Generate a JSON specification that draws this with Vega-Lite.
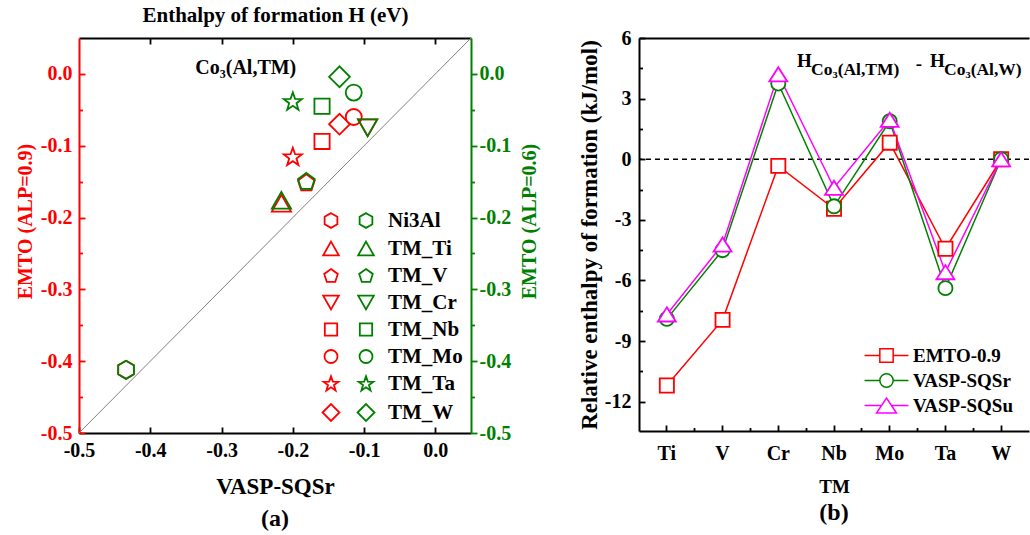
{
  "$schema": "https://vega.github.io/schema/vega-lite/v6.json",
  "padding": {"left": 15, "top": 4, "right": 0, "bottom": 0},
  "background": "white",
  "datasets": {
    "formation": [
      {"TM": "Ni3Al", "VASP": -0.434, "EMTO09": -0.412, "EMTO06": -0.412},
      {"TM": "TM_Ti", "VASP": -0.216, "EMTO09": -0.180, "EMTO06": -0.176},
      {"TM": "TM_V", "VASP": -0.181, "EMTO09": -0.151, "EMTO06": -0.149},
      {"TM": "TM_Cr", "VASP": -0.095, "EMTO09": -0.075, "EMTO06": -0.075},
      {"TM": "TM_Nb", "VASP": -0.159, "EMTO09": -0.094, "EMTO06": -0.045},
      {"TM": "TM_Mo", "VASP": -0.1145, "EMTO09": -0.060, "EMTO06": -0.026},
      {"TM": "TM_Ta", "VASP": -0.200, "EMTO09": -0.115, "EMTO06": -0.038},
      {"TM": "TM_W", "VASP": -0.1345, "EMTO09": -0.070, "EMTO06": -0.004}
    ],
    "diagonal": [{"v": -0.5}, {"v": 0.05}],
    "relative": [
      {"TM": "Ti", "method": "EMTO-0.9", "H": -11.2},
      {"TM": "V", "method": "EMTO-0.9", "H": -7.95},
      {"TM": "Cr", "method": "EMTO-0.9", "H": -0.33},
      {"TM": "Nb", "method": "EMTO-0.9", "H": -2.45},
      {"TM": "Mo", "method": "EMTO-0.9", "H": 0.82},
      {"TM": "Ta", "method": "EMTO-0.9", "H": -4.43},
      {"TM": "W", "method": "EMTO-0.9", "H": 0},
      {"TM": "Ti", "method": "VASP-SQSr", "H": -7.9},
      {"TM": "V", "method": "VASP-SQSr", "H": -4.5},
      {"TM": "Cr", "method": "VASP-SQSr", "H": 3.75},
      {"TM": "Nb", "method": "VASP-SQSr", "H": -2.33},
      {"TM": "Mo", "method": "VASP-SQSr", "H": 1.88},
      {"TM": "Ta", "method": "VASP-SQSr", "H": -6.38},
      {"TM": "W", "method": "VASP-SQSr", "H": 0},
      {"TM": "Ti", "method": "VASP-SQSu", "H": -7.68},
      {"TM": "V", "method": "VASP-SQSu", "H": -4.22},
      {"TM": "Cr", "method": "VASP-SQSu", "H": 4.2},
      {"TM": "Nb", "method": "VASP-SQSu", "H": -1.41},
      {"TM": "Mo", "method": "VASP-SQSu", "H": 1.95},
      {"TM": "Ta", "method": "VASP-SQSu", "H": -5.59},
      {"TM": "W", "method": "VASP-SQSu", "H": 0}
    ]
  },
  "config": {
    "font": "Liberation Serif",
    "view": {"stroke": null},
    "axis": {
      "grid": false,
      "labelFont": "Liberation Serif",
      "labelFontWeight": "bold",
      "labelFontSize": 20,
      "titleFont": "Liberation Serif",
      "titleFontWeight": "bold",
      "titleFontSize": 20,
      "labelFlush": false,
      "labelOverlap": false,
      "domainWidth": 2,
      "tickWidth": 1.8,
      "domainColor": "black",
      "tickColor": "black",
      "labelColor": "black",
      "titleColor": "black"
    },
    "legend": {
      "labelFont": "Liberation Serif",
      "labelFontWeight": "bold",
      "labelFontSize": 21,
      "labelColor": "black",
      "padding": 0
    },
    "title": {
      "font": "Liberation Serif",
      "fontWeight": "bold",
      "fontSize": 24,
      "color": "black"
    }
  },
  "bounds": "flush",
  "spacing": 168,
  "hconcat": [
    {
      "width": 392,
      "height": 395,
      "title": {"text": "(a)", "orient": "bottom", "offset": 9, "anchor": "middle"},
      "layer": [
        {
          "data": {"name": "diagonal"},
          "mark": {"type": "line", "color": "#808080", "strokeWidth": 1},
          "encoding": {
            "x": {
              "field": "v", "type": "quantitative",
              "scale": {"domain": [-0.5, 0.05], "nice": false, "zero": false},
              "axis": {
                "orient": "bottom",
                "values": [-0.5, -0.4, -0.3, -0.2, -0.1, 0],
                "tickSize": -6,
                "labelPadding": 13,
                "labelExpr": "datum.value < 0 ? '-' + format(-datum.value, '.1f') : format(datum.value, '.1f')",
                "title": "VASP-SQSr",
                "titleFontSize": 23,
                "titlePadding": 15
              }
            },
            "y": {
              "field": "v", "type": "quantitative",
              "scale": {"domain": [-0.5, 0.05], "nice": false, "zero": false},
              "axis": {
                "orient": "left",
                "values": [-0.5, -0.4, -0.3, -0.2, -0.1, 0],
                "tickSize": -6,
                "labelPadding": 13,
                "labelExpr": "datum.value < 0 ? '-' + format(-datum.value, '.1f') : format(datum.value, '.1f')",
                "labelColor": "#FF0000",
                "domainColor": "#FF0000",
                "tickColor": "#FF0000",
                "title": "EMTO (ALP=0.9)",
                "titleColor": "#FF0000",
                "titlePadding": 5,
                "titleY": 183
              }
            }
          }
        },
        {
          "data": {"name": "formation"},
          "mark": {"type": "point", "filled": false, "stroke": "#FF0000", "strokeWidth": 1.8, "size": 256, "opacity": 1},
          "encoding": {
            "x": {
              "field": "VASP", "type": "quantitative",
              "scale": {"domain": [-0.5, 0.05], "nice": false, "zero": false},
              "axis": {
                "orient": "top",
                "values": [-0.4, -0.3, -0.2, -0.1, 0],
                "tickSize": -6,
                "labels": false,
                "title": "Enthalpy of formation H (eV)",
                "titleFontSize": 21,
                "titlePadding": 12
              }
            },
            "y": {
              "field": "EMTO09", "type": "quantitative",
              "scale": {"domain": [-0.5, 0.05], "nice": false, "zero": false},
              "axis": {
                "orient": "right",
                "values": [-0.5, -0.4, -0.3, -0.2, -0.1, 0],
                "tickSize": 6,
                "labelPadding": 2,
                "labelExpr": "datum.value < 0 ? '-' + format(-datum.value, '.1f') : format(datum.value, '.1f')",
                "labelColor": "#008000",
                "domainColor": "#008000",
                "tickColor": "#008000",
                "title": "EMTO (ALP=0.6)",
                "titleColor": "#008000",
                "titleAngle": 270,
                "titleBaseline": "top",
                "titlePadding": 9,
                "titleY": 183
              }
            },
            "shape": {
              "field": "TM", "type": "nominal",
              "scale": {
                "domain": ["Ni3Al", "TM_Ti", "TM_V", "TM_Cr", "TM_Nb", "TM_Mo", "TM_Ta", "TM_W"],
                "range": [
                  "M0,-1.13L0.98,-0.565L0.98,0.565L0,1.13L-0.98,0.565L-0.98,-0.565Z",
                  "M0,-1.05L1.2,1.05L-1.2,1.05Z",
                  "M0,-1L1.046,-0.24L0.647,0.99L-0.647,0.99L-1.046,-0.24Z",
                  "M0,1.05L1.2,-1.05L-1.2,-1.05Z",
                  "M-0.95,-0.95L0.95,-0.95L0.95,0.95L-0.95,0.95Z",
                  "circle",
                  "M0,-1.1L0.282,-0.288L1.141,-0.271L0.4565,0.248L0.705,1.071L0,0.58L-0.705,1.071L-0.4565,0.248L-1.141,-0.271L-0.282,-0.288Z",
                  "M-1.3,0L0,-1.3L1.3,0L0,1.3Z"
                ]
              },
              "legend": {
                "orient": "none",
                "legendX": 241.5,
                "legendY": 172,
                "direction": "vertical",
                "title": null,
                "symbolSize": 169,
                "symbolStrokeColor": "#FF0000",
                "symbolStrokeWidth": 1.8,
                "symbolFillColor": "transparent",
                "labelExpr": "' '",
                "labelOpacity": 0,
                "labelOffset": 11.5,
                "rowPadding": 5
              }
            }
          }
        },
        {
          "data": {"name": "formation"},
          "mark": {"type": "point", "filled": false, "stroke": "#008000", "strokeWidth": 1.8, "size": 256, "opacity": 1},
          "encoding": {
            "x": {
              "field": "VASP", "type": "quantitative",
              "scale": {"domain": [-0.5, 0.05], "nice": false, "zero": false},
              "axis": null
            },
            "y": {
              "field": "EMTO06", "type": "quantitative",
              "scale": {"domain": [-0.5, 0.05], "nice": false, "zero": false},
              "axis": {
                "orient": "left",
                "values": [-0.45, -0.35, -0.25, -0.15, -0.05],
                "tickSize": -3.5,
                "labels": false,
                "domain": false,
                "tickColor": "#FF0000",
                "title": null
              }
            },
            "shape": {
              "field": "TM", "type": "nominal",
              "scale": {
                "domain": ["Ni3Al", "TM_Ti", "TM_V", "TM_Cr", "TM_Nb", "TM_Mo", "TM_Ta", "TM_W"],
                "range": [
                  "M0,-1.13L0.98,-0.565L0.98,0.565L0,1.13L-0.98,0.565L-0.98,-0.565Z",
                  "M0,-1.05L1.2,1.05L-1.2,1.05Z",
                  "M0,-1L1.046,-0.24L0.647,0.99L-0.647,0.99L-1.046,-0.24Z",
                  "M0,1.05L1.2,-1.05L-1.2,-1.05Z",
                  "M-0.95,-0.95L0.95,-0.95L0.95,0.95L-0.95,0.95Z",
                  "circle",
                  "M0,-1.1L0.282,-0.288L1.141,-0.271L0.4565,0.248L0.705,1.071L0,0.58L-0.705,1.071L-0.4565,0.248L-1.141,-0.271L-0.282,-0.288Z",
                  "M-1.3,0L0,-1.3L1.3,0L0,1.3Z"
                ]
              },
              "legend": {
                "orient": "none",
                "legendX": 276.5,
                "legendY": 172,
                "direction": "vertical",
                "title": null,
                "symbolSize": 169,
                "symbolStrokeColor": "#008000",
                "symbolStrokeWidth": 1.8,
                "symbolFillColor": "transparent",
                "labelOffset": 11.5,
                "rowPadding": 5
              }
            }
          }
        },
        {
          "data": {"values": [{}]},
          "mark": {"type": "text", "text": "Co₃(Al,TM)", "font": "Liberation Serif", "fontSize": 20, "fontWeight": "bold", "align": "center", "baseline": "alphabetic", "color": "black"},
          "encoding": {
            "x": {
              "datum": -0.266, "type": "quantitative",
              "scale": {"domain": [-0.5, 0.05], "nice": false, "zero": false},
              "axis": null
            },
            "y": {
              "datum": 0, "type": "quantitative",
              "scale": {"domain": [-0.5, 0.05], "nice": false, "zero": false},
              "axis": {
                "orient": "right",
                "values": [-0.45, -0.35, -0.25, -0.15, -0.05],
                "tickSize": 3.5,
                "labels": false,
                "domain": false,
                "tickColor": "#008000",
                "title": null
              }
            }
          }
        }
      ],
      "resolve": {"axis": {"x": "independent", "y": "independent"}, "scale": {"shape": "independent"}}
    },
    {
      "width": 390,
      "height": 393,
      "title": {"text": "(b)", "orient": "bottom", "offset": 5, "anchor": "middle"},
      "layer": [
        {
          "data": {"values": [{}]},
          "mark": {"type": "rule", "color": "black", "strokeWidth": 1.3, "strokeDash": [5, 4]},
          "encoding": {
            "y": {
              "datum": 0, "type": "quantitative",
              "scale": {"domain": [-13.45, 6], "nice": false, "zero": false},
              "axis": {
                "orient": "left",
                "values": [-12, -9, -6, -3, 0, 3, 6],
                "tickSize": -6,
                "labelPadding": 14,
                "labelExpr": "datum.value < 0 ? '-' + (-datum.value) : '' + datum.value",
                "title": "Relative enthalpy of formation (kJ/mol)",
                "titleFontSize": 23,
                "titlePadding": 3
              }
            }
          }
        },
        {
          "data": {"name": "relative"},
          "mark": {"type": "line", "strokeWidth": 1.5},
          "encoding": {
            "x": {
              "field": "TM", "type": "nominal",
              "scale": {"type": "band", "domain": ["Ti", "V", "Cr", "Nb", "Mo", "Ta", "W"], "paddingInner": 0, "paddingOuter": 0},
              "axis": {
                "orient": "bottom",
                "bandPosition": 0.5,
                "tickSize": -6,
                "labelAngle": 0,
                "labelPadding": 18,
                "title": "TM",
                "titleFontSize": 19,
                "titlePadding": 14
              }
            },
            "y": {
              "field": "H", "type": "quantitative",
              "scale": {"domain": [-13.45, 6], "nice": false, "zero": false},
              "axis": {
                "orient": "left",
                "values": [-10.5, -7.5, -4.5, -1.5, 1.5, 4.5],
                "tickSize": -3.5,
                "labels": false,
                "domain": false,
                "title": null
              }
            },
            "color": {
              "field": "method", "type": "nominal",
              "scale": {"domain": ["EMTO-0.9", "VASP-SQSr", "VASP-SQSu"], "range": ["#FF0000", "#008000", "#FF00FF"]},
              "legend": {
                "orient": "none",
                "legendX": 798,
                "legendY": 308,
                "direction": "vertical",
                "title": null,
                "symbolSize": 225,
                "symbolStrokeWidth": 1.5,
                "labelFontSize": 19,
                "labelOffset": 17,
                "rowPadding": 4,
                "encode": {
                  "symbols": {
                    "update": {
                      "shape": {"signal": "datum.value === 'EMTO-0.9' ? 'M-2.93,0L-0.89,0M0.89,0L2.93,0M-0.89,-0.89L0.89,-0.89L0.89,0.89L-0.89,0.89Z' : datum.value === 'VASP-SQSr' ? 'M-2.93,0L-0.89,0M0.89,0L2.93,0M-0.89,0A0.89,0.89 0 1,0 0.89,0A0.89,0.89 0 1,0 -0.89,0Z' : 'M-2.93,0L-0.67,0M0.67,0L2.93,0M0,-1L1.33,1L-1.33,1Z'"},
                      "fill": {"value": "white"},
                      "fillOpacity": {"value": 1}
                    }
                  }
                }
              }
            },
            "order": {"value": null}
          }
        },
        {
          "data": {"name": "relative"},
          "mark": {"type": "point", "filled": true, "fill": "white", "strokeWidth": 1.8, "size": 200, "opacity": 1},
          "encoding": {
            "x": {
              "field": "TM", "type": "nominal",
              "scale": {"type": "band", "domain": ["Ti", "V", "Cr", "Nb", "Mo", "Ta", "W"], "paddingInner": 0, "paddingOuter": 0},
              "axis": {
                "orient": "bottom",
                "bandPosition": 0,
                "values": ["V", "Cr", "Nb", "Mo", "Ta", "W"],
                "tickSize": -3.5,
                "labels": false,
                "domain": false,
                "title": null
              }
            },
            "y": {
              "field": "H", "type": "quantitative",
              "scale": {"domain": [-13.45, 6], "nice": false, "zero": false},
              "axis": null
            },
            "shape": {
              "field": "method", "type": "nominal",
              "scale": {"domain": ["EMTO-0.9", "VASP-SQSr", "VASP-SQSu"], "range": ["square", "circle", "M0,-1L1.27,1L-1.27,1Z"]},
              "legend": null
            },
            "stroke": {
              "field": "method", "type": "nominal",
              "scale": {"domain": ["EMTO-0.9", "VASP-SQSr", "VASP-SQSu"], "range": ["#FF0000", "#008000", "#FF00FF"]},
              "legend": null
            }
          }
        },
        {
          "data": {"values": [{}]},
          "mark": {"type": "text", "text": "H", "font": "Liberation Serif", "fontSize": 19, "fontWeight": "bold", "align": "left", "baseline": "alphabetic", "dx": -37, "color": "black"},
          "encoding": {
            "x": {
              "datum": "Nb", "type": "nominal",
              "scale": {"type": "band", "domain": ["Ti", "V", "Cr", "Nb", "Mo", "Ta", "W"], "paddingInner": 0, "paddingOuter": 0},
              "axis": {"orient": "top", "ticks": false, "labels": false, "title": null}
            },
            "y": {"datum": 4.55, "type": "quantitative", "scale": {"domain": [-13.45, 6], "nice": false, "zero": false}, "axis": null}
          }
        },
        {
          "data": {"values": [{}]},
          "mark": {"type": "text", "text": "Co₃(Al,TM)", "font": "Liberation Serif", "fontSize": 17.5, "fontWeight": "bold", "align": "left", "baseline": "alphabetic", "dx": -23, "dy": 8, "color": "black"},
          "encoding": {
            "x": {"datum": "Nb", "type": "nominal", "scale": {"type": "band", "domain": ["Ti", "V", "Cr", "Nb", "Mo", "Ta", "W"], "paddingInner": 0, "paddingOuter": 0}, "axis": null},
            "y": {"datum": 4.55, "type": "quantitative", "scale": {"domain": [-13.45, 6], "nice": false, "zero": false}, "axis": null}
          }
        },
        {
          "data": {"values": [{}]},
          "mark": {"type": "text", "text": "-", "font": "Liberation Serif", "fontSize": 19, "fontWeight": "bold", "align": "center", "baseline": "alphabetic", "dx": 85, "dy": 3, "color": "black"},
          "encoding": {
            "x": {"datum": "Nb", "type": "nominal", "scale": {"type": "band", "domain": ["Ti", "V", "Cr", "Nb", "Mo", "Ta", "W"], "paddingInner": 0, "paddingOuter": 0}, "axis": null},
            "y": {"datum": 4.55, "type": "quantitative", "scale": {"domain": [-13.45, 6], "nice": false, "zero": false}, "axis": null}
          }
        },
        {
          "data": {"values": [{}]},
          "mark": {"type": "text", "text": "H", "font": "Liberation Serif", "fontSize": 19, "fontWeight": "bold", "align": "left", "baseline": "alphabetic", "dx": 96, "color": "black"},
          "encoding": {
            "x": {"datum": "Nb", "type": "nominal", "scale": {"type": "band", "domain": ["Ti", "V", "Cr", "Nb", "Mo", "Ta", "W"], "paddingInner": 0, "paddingOuter": 0}, "axis": null},
            "y": {"datum": 4.55, "type": "quantitative", "scale": {"domain": [-13.45, 6], "nice": false, "zero": false}, "axis": null}
          }
        },
        {
          "data": {"values": [{}]},
          "mark": {"type": "text", "text": "Co₃(Al,W)", "font": "Liberation Serif", "fontSize": 17.5, "fontWeight": "bold", "align": "left", "baseline": "alphabetic", "dx": 110, "dy": 8, "color": "black"},
          "encoding": {
            "x": {"datum": "Nb", "type": "nominal", "scale": {"type": "band", "domain": ["Ti", "V", "Cr", "Nb", "Mo", "Ta", "W"], "paddingInner": 0, "paddingOuter": 0}, "axis": null},
            "y": {"datum": 4.55, "type": "quantitative", "scale": {"domain": [-13.45, 6], "nice": false, "zero": false}, "axis": null}
          }
        }
      ],
      "resolve": {"axis": {"x": "independent", "y": "independent"}, "scale": {"shape": "independent", "stroke": "independent"}}
    }
  ]
}
